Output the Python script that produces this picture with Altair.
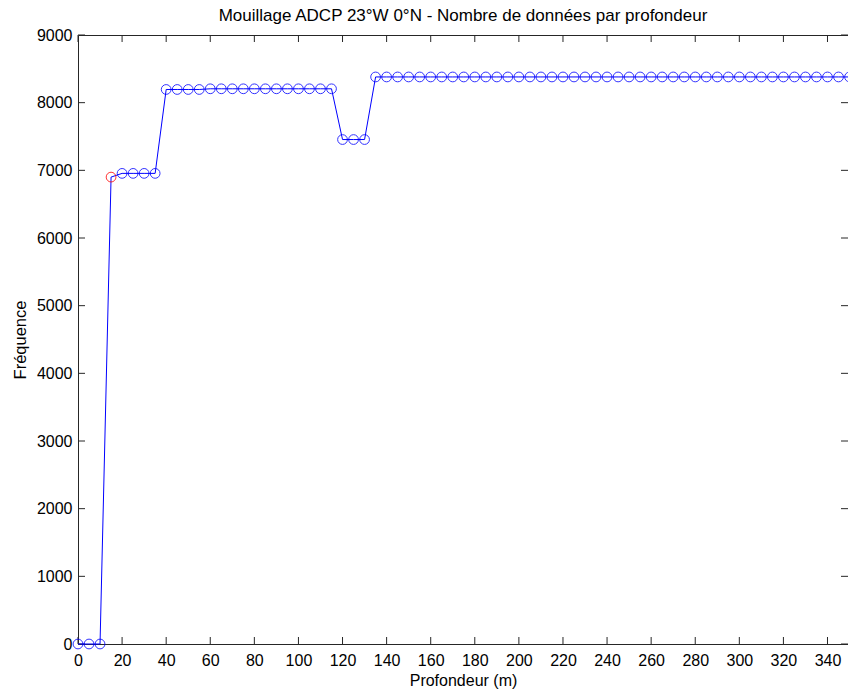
import altair as alt
import pandas as pd

# Profondeur (m)
depths = [0, 5, 10, 15, 20, 25, 30, 35, 40, 45, 50, 55,
          60, 65, 70, 75, 80, 85, 90, 95, 100, 105, 110, 115,
          120, 125, 130, 135, 140, 145, 150, 155, 160, 165, 170, 175,
          180, 185, 190, 195, 200, 205, 210, 215, 220, 225, 230, 235,
          240, 245, 250, 255, 260, 265, 270, 275, 280, 285, 290, 295,
          300, 305, 310, 315, 320, 325, 330, 335, 340, 345, 350]
# Fréquence (nombre de données)
counts = [0, 0, 0, 6900, 6955, 6955, 6955, 6955, 8195, 8195, 8195, 8195,
          8205, 8205, 8205, 8205, 8205, 8205, 8205, 8205, 8205, 8205, 8205, 8205,
          7455, 7455, 7455, 8380, 8380, 8380, 8380, 8380, 8380, 8380, 8380, 8380,
          8380, 8380, 8380, 8380, 8380, 8380, 8380, 8380, 8380, 8380, 8380, 8380,
          8380, 8380, 8380, 8380, 8380, 8380, 8380, 8380, 8380, 8380, 8380, 8380,
          8380, 8380, 8380, 8380, 8380, 8380, 8380, 8380, 8380, 8380, 8380]
highlight_depths = [15]
x_ticks = [0, 20, 40, 60, 80, 100, 120, 140, 160, 180, 200, 220, 240, 260, 280, 300, 320, 340]
y_ticks = [0, 1000, 2000, 3000, 4000, 5000, 6000, 7000, 8000, 9000]
title_text = "Mouillage ADCP 23°W 0°N - Nombre de données par profondeur"

df = pd.DataFrame({"depth": depths, "count": counts})
df["flag"] = df["depth"].isin(highlight_depths).map({True: "mis", False: "ok"})
xt_df = pd.DataFrame({"t": x_ticks})
yt_df = pd.DataFrame({"t": y_ticks})

W, H = 770, 609
FONT = "Liberation Sans"

xscale = alt.Scale(domain=[0, 349.3], nice=False, zero=False)
yscale = alt.Scale(domain=[0, 9000], nice=False)

xaxis = alt.Axis(values=x_ticks, ticks=False, domain=False, grid=False, format="d",
                 labelFont=FONT, labelFontSize=16, labelColor="black",
                 labelBaseline="alphabetic", labelPadding=21,
                 labelFlush=False, labelOverlap=False,
                 title="Profondeur (m)", titleFont=FONT, titleFontSize=16,
                 titleFontWeight="normal", titleColor="black",
                 titleX=W / 2, titleY=41, titleBaseline="alphabetic",
                 titleAlign="center")
yaxis = alt.Axis(values=y_ticks, ticks=False, domain=False, grid=False, format="d",
                 labelFont=FONT, labelFontSize=16, labelColor="black",
                 labelBaseline="middle", labelPadding=6,
                 labelFlush=False, labelOverlap=False,
                 title="Fréquence", titleFont=FONT, titleFontSize=16.5,
                 titleFontWeight="normal", titleColor="black",
                 titleAngle=270, titleX=-53, titleY=H / 2,
                 titleBaseline="alphabetic", titleAlign="center")

X = lambda f: alt.X(f, type="quantitative", scale=xscale, axis=xaxis)
Y = lambda f: alt.Y(f, type="quantitative", scale=yscale, axis=yaxis)

base = alt.Chart(df)
line = base.mark_line(color="#0000ff", strokeWidth=1).encode(x=X("depth"), y=Y("count"))
points = base.mark_point(shape="circle", size=95, filled=False, strokeWidth=1, opacity=0.8).encode(
    x=X("depth"), y=Y("count"),
    color=alt.Color("flag:N", scale=alt.Scale(domain=["ok", "mis"], range=["#0000ff", "#ff0000"]), legend=None),
)

xt_bottom = alt.Chart(xt_df).mark_rule(color="#262626", strokeWidth=1).encode(
    x=X("t"), y=alt.value(H), y2=alt.value(H - 7))
xt_top = alt.Chart(xt_df).mark_rule(color="#262626", strokeWidth=1).encode(
    x=X("t"), y=alt.value(0), y2=alt.value(7))
yt_left = alt.Chart(yt_df).mark_rule(color="#262626", strokeWidth=1).encode(
    y=Y("t"), x=alt.value(0), x2=alt.value(7))
yt_right = alt.Chart(yt_df).mark_rule(color="#262626", strokeWidth=1).encode(
    y=Y("t"), x=alt.value(W - 7), x2=alt.value(W))

title = alt.Chart(pd.DataFrame({"label": [title_text]})).mark_text(
    font=FONT, fontSize=17, color="black", align="center", baseline="alphabetic"
).encode(text="label:N", x=alt.value(385), y=alt.value(-14))

chart = alt.layer(xt_bottom, xt_top, yt_left, yt_right, line, points, title).properties(
    width=W, height=H,
    autosize=alt.AutoSizeParams(type="none"),
    padding={"left": 78, "top": 35, "right": 0, "bottom": 46},
    background="white",
).configure_view(stroke="#262626", strokeWidth=1)

chart.save("out.html", embed_options={"renderer": "svg", "actions": False})
